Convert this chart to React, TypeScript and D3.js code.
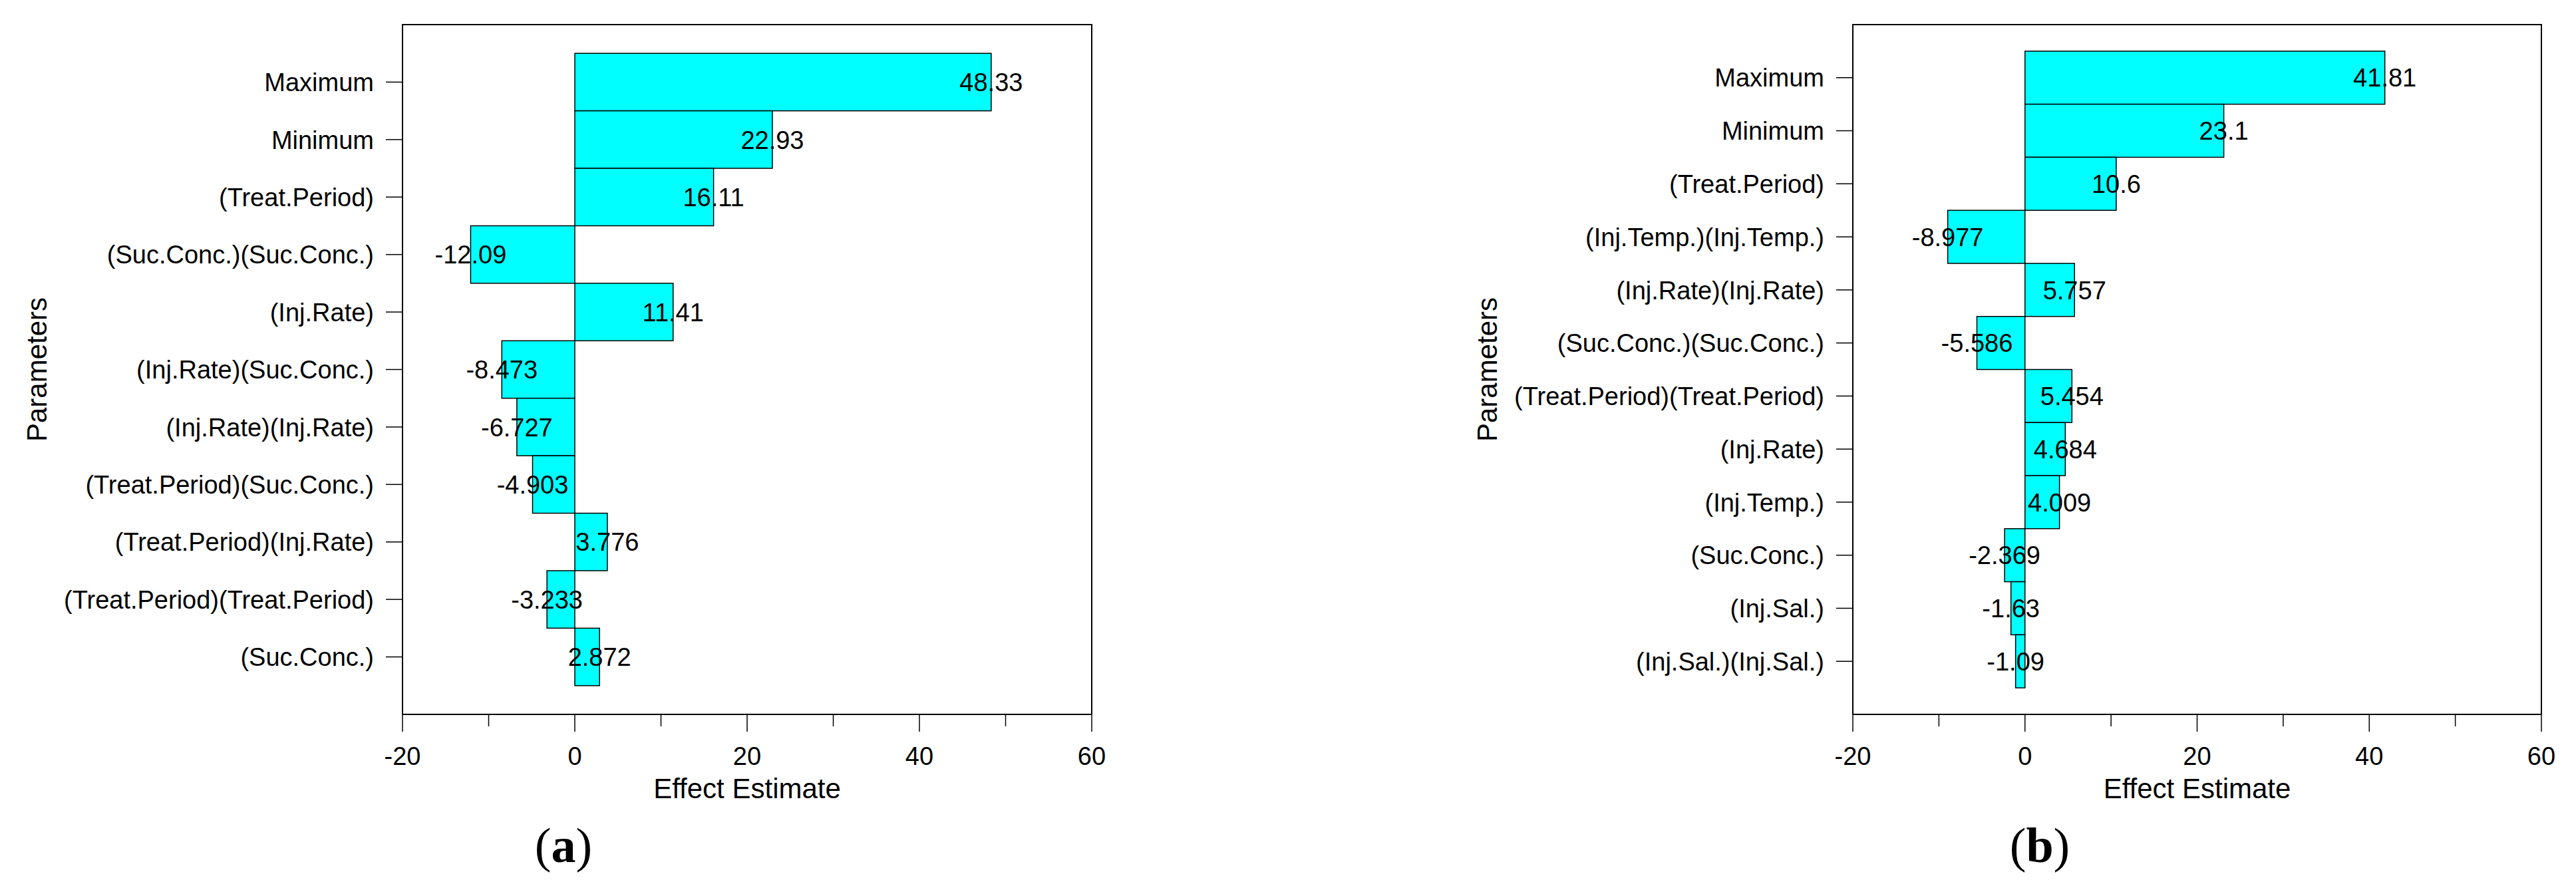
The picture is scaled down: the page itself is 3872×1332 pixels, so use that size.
import React from "react";
import * as d3 from "d3";

const categoriesA = [
  "Maximum",
  "Minimum",
  "(Treat.Period)",
  "(Suc.Conc.)(Suc.Conc.)",
  "(Inj.Rate)",
  "(Inj.Rate)(Suc.Conc.)",
  "(Inj.Rate)(Inj.Rate)",
  "(Treat.Period)(Suc.Conc.)",
  "(Treat.Period)(Inj.Rate)",
  "(Treat.Period)(Treat.Period)",
  "(Suc.Conc.)",
];
const valuesA = [48.33, 22.93, 16.11, -12.09, 11.41, -8.473, -6.727, -4.903, 3.776, -3.233, 2.872];
const labelsA = ["48.33", "22.93", "16.11", "-12.09", "11.41", "-8.473", "-6.727", "-4.903", "3.776", "-3.233", "2.872"];

const categoriesB = [
  "Maximum",
  "Minimum",
  "(Treat.Period)",
  "(Inj.Temp.)(Inj.Temp.)",
  "(Inj.Rate)(Inj.Rate)",
  "(Suc.Conc.)(Suc.Conc.)",
  "(Treat.Period)(Treat.Period)",
  "(Inj.Rate)",
  "(Inj.Temp.)",
  "(Suc.Conc.)",
  "(Inj.Sal.)",
  "(Inj.Sal.)(Inj.Sal.)",
];
const valuesB = [41.81, 23.1, 10.6, -8.977, 5.757, -5.586, 5.454, 4.684, 4.009, -2.369, -1.63, -1.09];
const labelsB = ["41.81", "23.1", "10.6", "-8.977", "5.757", "-5.586", "5.454", "4.684", "4.009", "-2.369", "-1.63", "-1.09"];

const xDomain = [-20, 60];
const majorTicks = [-20, 0, 20, 40, 60];
const minorTicks = [-10, 10, 30, 50];
const xTitle = "Effect Estimate";
const yTitle = "Parameters";

const FONT = "'Liberation Sans', Arial, Helvetica, sans-serif";
const SERIF = "'Liberation Serif', 'Times New Roman', serif";

type PanelProps = {
  cats: string[];
  vals: number[];
  labels: string[];
  x0: number;
  x1: number;
  y0: number;
  y1: number;
  yTitleX: number;
  tag: string;
  tagX: number;
};

function Panel({ cats, vals, labels, x0, x1, y0, y1, yTitleX, tag, tagX }: PanelProps) {
  const x = d3.scaleLinear().domain(xDomain).range([x0, x1]);
  const y = d3.scaleLinear().domain([0, cats.length + 1]).range([y0, y1]);
  const zero = x(0);
  const fs = 38;
  return (
    <g>
      {/* bars */}
      {vals.map((v, i) => {
        const top = y(i + 0.5);
        const bot = y(i + 1.5);
        return (
          <rect
            key={"b" + i}
            x={Math.min(zero, x(v))}
            y={top}
            width={Math.abs(x(v) - zero)}
            height={bot - top}
            fill="#00FFFF"
            stroke="#000"
            strokeWidth={1.5}
          />
        );
      })}
      {/* frame */}
      <path
        d={`M${x0},${y1} L${x0},${y0} L${x1},${y0} L${x1},${y1}`}
        fill="none"
        stroke="#000"
        strokeWidth={2}
      />
      <line x1={x0} x2={x1} y1={y1} y2={y1} stroke="#000" strokeWidth={2} />
      {/* x ticks */}
      {majorTicks.map((t) => (
        <g key={"mt" + t}>
          <line x1={x(t)} x2={x(t)} y1={y1} y2={y1 + 26} stroke="#000" strokeWidth={1.5} />
          <text x={x(t)} y={y1 + 76} textAnchor="middle" fontFamily={FONT} fontSize={fs}>
            {t}
          </text>
        </g>
      ))}
      {minorTicks.map((t) => (
        <line key={"nt" + t} x1={x(t)} x2={x(t)} y1={y1} y2={y1 + 18} stroke="#000" strokeWidth={1.5} />
      ))}
      {/* y ticks & labels */}
      {cats.map((c, i) => (
        <g key={"c" + i}>
          <line x1={x0 - 25} x2={x0} y1={y(i + 1)} y2={y(i + 1)} stroke="#000" strokeWidth={1.5} />
          <text
            x={x0 - 43}
            y={y(i + 1)}
            dy="0.36em"
            textAnchor="end"
            fontFamily={FONT}
            fontSize={fs}
          >
            {c}
          </text>
        </g>
      ))}
      {/* value labels */}
      {vals.map((v, i) => (
        <text
          key={"v" + i}
          x={x(v)}
          y={y(i + 1)}
          dy="0.36em"
          textAnchor="middle"
          fontFamily={FONT}
          fontSize={fs}
        >
          {labels[i]}
        </text>
      ))}
      {/* titles */}
      <text
        x={(x0 + x1) / 2}
        y={y1 + 126}
        textAnchor="middle"
        fontFamily={FONT}
        fontSize={42}
      >
        {xTitle}
      </text>
      <text
        transform={`translate(${yTitleX},${(y0 + y1) / 2}) rotate(-90)`}
        textAnchor="middle"
        fontFamily={FONT}
        fontSize={42}
      >
        {yTitle}
      </text>
      <text x={tagX} y={1296} textAnchor="middle" fontFamily={SERIF} fontSize={74}>
        (<tspan fontWeight="bold">{tag}</tspan>)
      </text>
    </g>
  );
}

export default function App() {
  return (
    <svg
      width={3872}
      height={1332}
      style={{ position: "absolute", left: 0, top: 0, background: "#fff" }}
    >
      <rect x={0} y={0} width={3872} height={1332} fill="#fff" />
      <Panel
        cats={categoriesA}
        vals={valuesA}
        labels={labelsA}
        x0={605}
        x1={1641}
        y0={37}
        y1={1074}
        yTitleX={70}
        tag="a"
        tagX={847}
      />
      <Panel
        cats={categoriesB}
        vals={valuesB}
        labels={labelsB}
        x0={2785}
        x1={3820}
        y0={37}
        y1={1074}
        yTitleX={2250}
        tag="b"
        tagX={3066}
      />
    </svg>
  );
}
